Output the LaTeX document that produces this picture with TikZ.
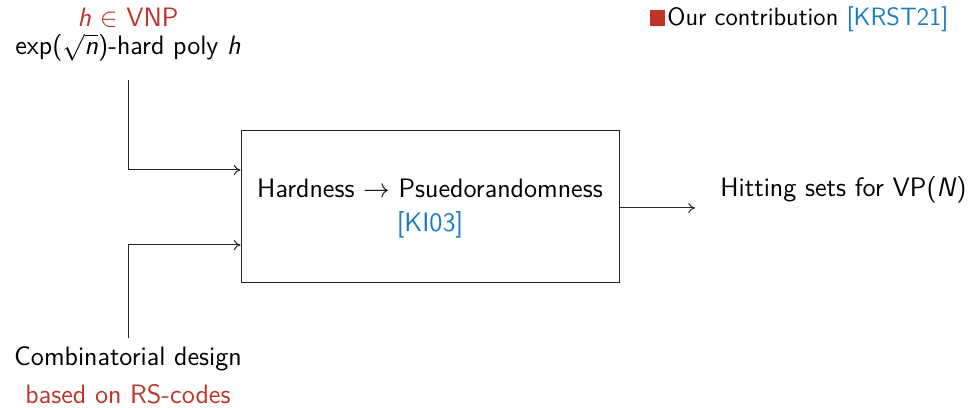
\documentclass[tikz,border=0pt,11pt]{standalone}
\usetikzlibrary{arrows.meta}
\definecolor{myred}{RGB}{190,52,40}
\definecolor{myblue}{RGB}{28,124,196}
\tikzset{
  lbl/.style={inner sep=0pt, anchor=base, font=\sffamily\fontsize{12}{14}\selectfont},
  leglbl/.style={inner sep=0pt, anchor=base west, font=\sffamily\fontsize{11.3}{13}\selectfont},
  conn/.style={draw=black!85, line width=0.45pt},
  arr/.style={conn, -{To[length=3pt,width=4.5pt]}},
}
\newcommand{\mv}[1]{\textsl{#1}}
\begin{document}
\begin{tikzpicture}[x=0.45pt,y=-0.45pt]
\useasboundingbox (0,0) rectangle (975,408);
% legend
\fill[myred] (650,10) rectangle (665,26);
\node[leglbl] (leg) at (667,26) {Our contribution \textcolor{myblue}{[KRST21]}};
% top input
\node[lbl, text=myred] (hvnp) at (128,27) {\mv{h} $\in$ VNP};
\node[lbl, text height=1.55ex] (hard) at (128,55) {exp($\sqrt{\mbox{\mv{n}}}$)-hard poly \mv{h}};
% box
\node[draw=black!85, line width=0.45pt, minimum width=378*0.45pt, minimum height=152*0.45pt, inner sep=0pt] (box) at (430,207) {};
\node[lbl] (hp) at (430,198) {Hardness $\to$ Psuedorandomness};
\node[lbl, text=myblue] (ki) at (430,232) {[KI03]};
% bottom input
\node[lbl] (comb) at (128,366) {Combinatorial design};
\node[lbl, text=myred] (rs) at (128,404) {based on RS-codes};
% output
\node[lbl, anchor=base west] (hit) at (720,197) {Hitting sets for VP(\mv{N})};
\coordinate (topstart) at (128,80);
\coordinate (botstart) at (128,338);
\coordinate (outend) at (695,208);
\draw[arr] (topstart) |- (box.west |- 0,170);
\draw[arr] (botstart) |- (box.west |- 0,245);
\draw[arr] (box.east |- 0,208) -- (outend);
\end{tikzpicture}
\end{document}
